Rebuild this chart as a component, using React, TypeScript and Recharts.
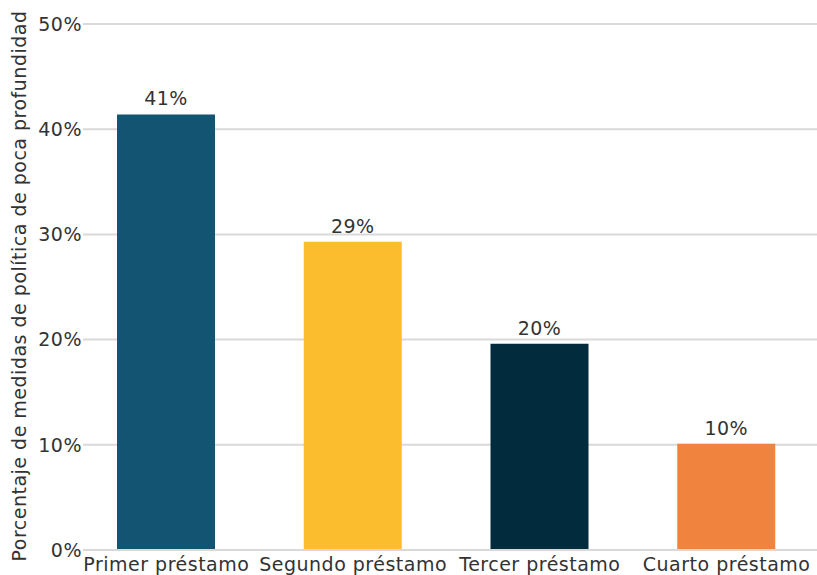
import React from "react";
import { BarChart, Bar, XAxis, YAxis, CartesianGrid, Cell, LabelList, Label } from "recharts";

const loans = ["Primer préstamo", "Segundo préstamo", "Tercer préstamo", "Cuarto préstamo"];
const shares = [41.4, 29.3, 19.6, 10.1];
const barColors = ["#135473", "#FBBD2E", "#022B3D", "#F0843E"];
const yTicks = [0, 10, 20, 30, 40, 50];

const data = loans.map((loan, i) => ({ loan, share: shares[i] }));

const FONT = "'DejaVu Sans', sans-serif";
const TEXT = "#333333";
const textStyle = { fill: TEXT, fontSize: 19, fontFamily: FONT, letterSpacing: 0.5 };

export default function App() {
  return (
    <div style={{ width: 817, height: 575, fontFamily: FONT, background: "#fff" }}>
      <style>{`body { margin: 0; }`}</style>
      <BarChart
        width={817}
        height={575}
        data={data}
        margin={{ top: 24, right: 0, bottom: 0, left: 0 }}
      >
        <CartesianGrid vertical={false} stroke="#d9d9d9" strokeWidth={2} />
        <XAxis
          dataKey="loan"
          height={25}
          padding={{ left: -10, right: -3 }}
          axisLine={{ stroke: "#d9d9d9", strokeWidth: 2 }}
          tickLine={false}
          tickSize={0}
          tickMargin={8}
          interval={0}
          tick={textStyle}
        />
        <YAxis
          width={83}
          domain={[0, 50]}
          ticks={yTicks}
          tickFormatter={(v) => `${v}%`}
          axisLine={false}
          tickLine={false}
          tickSize={0}
          tickMargin={1}
          tick={textStyle}
        >
          <Label
            content={() => (
              <text
                transform="translate(19,286) rotate(-90)"
                textAnchor="middle"
                dominantBaseline="central"
                style={textStyle}
              >
                Porcentaje de medidas de política de poca profundidad
              </text>
            )}
          />
        </YAxis>
        <Bar dataKey="share" barSize={98} isAnimationActive={false}>
          {data.map((d, i) => (
            <Cell key={d.loan} fill={barColors[i]} />
          ))}
          <LabelList
            dataKey="share"
            position="top"
            offset={9}
            formatter={(v: number) => `${Math.round(v)}%`}
            style={textStyle}
          />
        </Bar>
      </BarChart>
    </div>
  );
}
